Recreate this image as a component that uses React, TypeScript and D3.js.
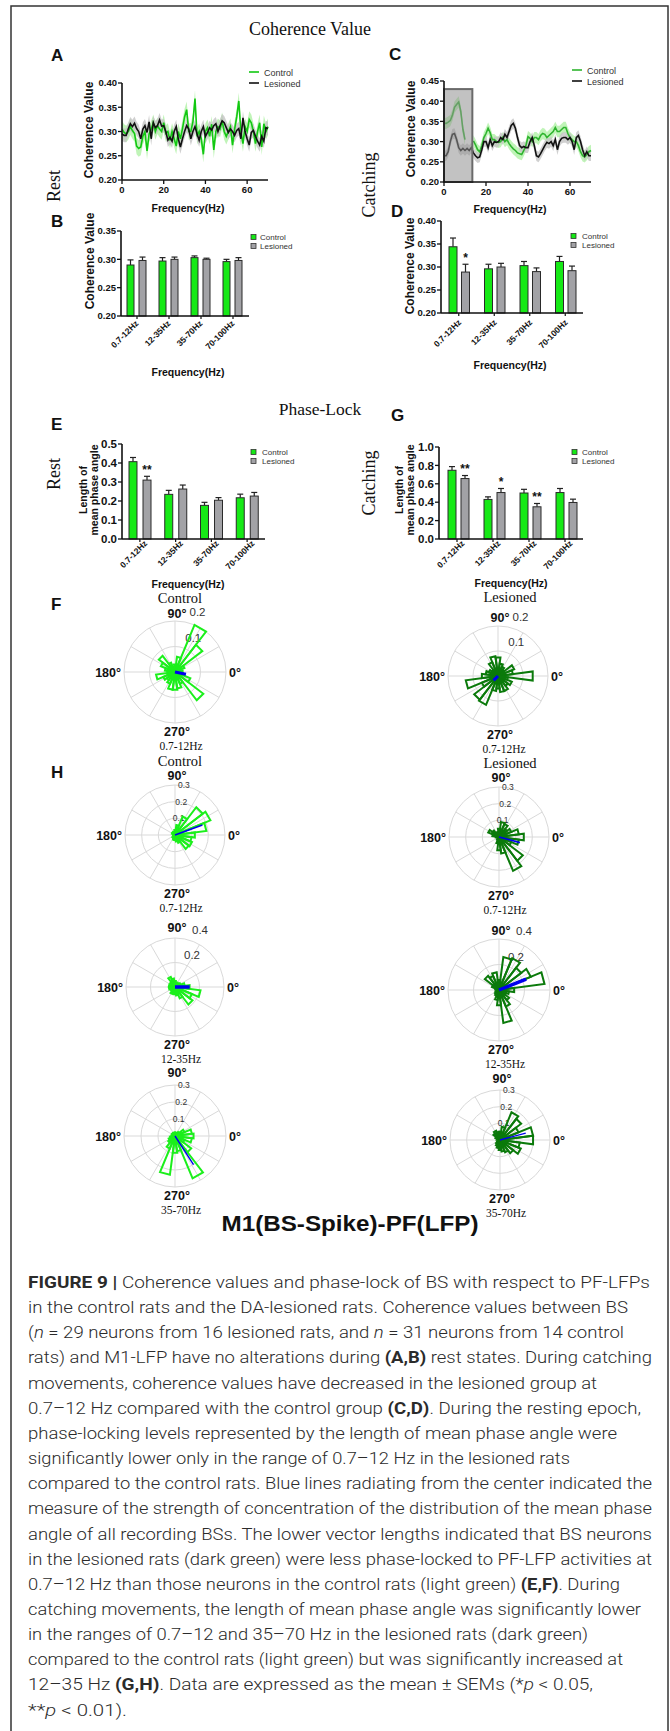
import React from 'react'
import * as d3 from 'd3'

const SANS = "'Liberation Sans', Arial, Helvetica, sans-serif"
const SERIF = "'Liberation Serif', 'Times New Roman', serif"
const CAPTION_FONT = "Roboto, 'Liberation Sans', Arial, sans-serif"

// ---- A / C : coherence spectra (one value per Hz, 0..70) ----
const freqHz = d3.range(0, 71)

const restControl = [
  0.305, 0.298, 0.295, 0.300, 0.310, 0.302, 0.296, 0.270, 0.265, 0.268,
  0.290, 0.300, 0.260, 0.295, 0.305, 0.318, 0.300, 0.312, 0.305, 0.300,
  0.318, 0.296, 0.300, 0.282, 0.300, 0.285, 0.270, 0.300, 0.285, 0.306,
  0.330, 0.345, 0.300, 0.300, 0.320, 0.368, 0.290, 0.300, 0.285, 0.253,
  0.300, 0.308, 0.290, 0.315, 0.262, 0.300, 0.310, 0.305, 0.322, 0.300,
  0.290, 0.300, 0.310, 0.272, 0.305, 0.330, 0.363, 0.300, 0.275, 0.310,
  0.300, 0.325, 0.318, 0.300, 0.275, 0.300, 0.318, 0.268, 0.316, 0.300,
  0.310,
]
const restLesioned = [
  0.295, 0.292, 0.292, 0.305, 0.316, 0.310, 0.317, 0.306, 0.300, 0.285,
  0.305, 0.312, 0.298, 0.320, 0.285, 0.318, 0.308, 0.312, 0.324, 0.311,
  0.312, 0.300, 0.282, 0.288, 0.280, 0.300, 0.310, 0.285, 0.268, 0.285,
  0.300, 0.312, 0.305, 0.285, 0.300, 0.310, 0.295, 0.282, 0.300, 0.310,
  0.290, 0.298, 0.308, 0.303, 0.312, 0.316, 0.300, 0.312, 0.322, 0.318,
  0.308, 0.298, 0.305, 0.300, 0.292, 0.302, 0.306, 0.285, 0.328, 0.300,
  0.285, 0.272, 0.298, 0.302, 0.290, 0.280, 0.272, 0.290, 0.280, 0.308,
  0.306,
]
const catchControl = [
  0.345, 0.345, 0.348, 0.352, 0.365, 0.385, 0.392, 0.398, 0.375, 0.330,
  0.305, null, null, null, 0.302, 0.292, 0.280, 0.275, 0.290, 0.310,
  0.320, 0.333, 0.322, 0.305, 0.305, 0.300, 0.298, 0.300, 0.310, 0.300,
  0.305, 0.295, 0.288, 0.282, 0.278, 0.272, 0.270, 0.268, 0.278, 0.290,
  0.312, 0.308, 0.300, 0.310, 0.310, 0.305, 0.315, 0.320, 0.318, 0.310,
  0.315, 0.320, 0.325, 0.335, 0.325, 0.325, 0.330, 0.335, 0.335, 0.320,
  0.310, 0.305, 0.300, 0.300, 0.290, 0.275, 0.265, 0.262, 0.268, 0.275,
  0.278,
]
const catchLesioned = [
  0.265, 0.265, 0.275, 0.300, 0.318, 0.320, 0.305, 0.285, 0.278, 0.283,
  0.278, 0.283, 0.278, 0.285, 0.272, 0.265, 0.260, 0.262, 0.280, 0.300,
  0.300, 0.285, 0.305, 0.290, 0.300, 0.298, 0.300, 0.310, 0.305, 0.318,
  0.310, 0.325, 0.340, 0.345, 0.333, 0.310, 0.290, 0.285, 0.288, 0.285,
  0.285, 0.300, 0.310, 0.290, 0.265, 0.262, 0.270, 0.280, 0.290, 0.298,
  0.295, 0.300, 0.290, 0.305, 0.280, 0.300, 0.308, 0.310, 0.310, 0.305,
  0.310, 0.300, 0.280, 0.310, 0.315, 0.300, 0.280, 0.265, 0.275, 0.265,
  0.265,
]
const semRestControl = 0.017
const semRestLesioned = 0.014
const semCatchControl = 0.014
const semCatchLesioned = 0.013
const catchBoxHz = [0, 13.5]
const catchBoxTop = 0.43

// ---- B / D / E / G : band summaries ----
const bandNames = ['0.7-12Hz', '12-35Hz', '35-70Hz', '70-100Hz']

const cohRestControl = [0.290, 0.297, 0.303, 0.296]
const cohRestControlSem = [0.009, 0.006, 0.003, 0.004]
const cohRestLesioned = [0.298, 0.300, 0.300, 0.298]
const cohRestLesionedSem = [0.006, 0.004, 0.002, 0.005]
const cohRestStars = ['', '', '', '']

const cohCatchControl = [0.344, 0.296, 0.303, 0.312]
const cohCatchControlSem = [0.019, 0.010, 0.009, 0.011]
const cohCatchLesioned = [0.289, 0.300, 0.290, 0.292]
const cohCatchLesionedSem = [0.017, 0.008, 0.008, 0.010]
const cohCatchStars = ['*', '', '', '']

const plRestControl = [0.407, 0.235, 0.177, 0.217]
const plRestControlSem = [0.022, 0.021, 0.016, 0.019]
const plRestLesioned = [0.310, 0.263, 0.204, 0.226]
const plRestLesionedSem = [0.020, 0.021, 0.014, 0.019]
const plRestStars = ['**', '', '', '']

const plCatchControl = [0.747, 0.430, 0.500, 0.505]
const plCatchControlSem = [0.040, 0.028, 0.040, 0.044]
const plCatchLesioned = [0.657, 0.505, 0.350, 0.397]
const plCatchLesionedSem = [0.033, 0.044, 0.036, 0.036]
const plCatchStars = ['**', '*', '**', '']

// ---- F / H : rose histograms, 24 bins centred on 0°,15°,...,345° ----
const roseFControl = [0.03, 0.02, 0.04, 0.135, 0.20, 0.06, 0.03, 0.02, 0.04, 0.08, 0.06, 0.04,
  0.03, 0.075, 0.05, 0.04, 0.05, 0.07, 0.07, 0.065, 0.05, 0.14, 0.065, 0.03]
const roseFLesioned = [0.14, 0.06, 0.07, 0.03, 0.04, 0.05, 0.075, 0.08, 0.06, 0.03, 0.04, 0.05,
  0.065, 0.13, 0.07, 0.12, 0.125, 0.06, 0.05, 0.065, 0.065, 0.05, 0.06, 0.04]
const roseH1Control = [0.12, 0.19, 0.23, 0.21, 0.12, 0.06, 0.03, 0.02, 0.02, 0.02, 0.02, 0.01,
  0.01, 0.01, 0.01, 0.02, 0.02, 0.03, 0.03, 0.04, 0.05, 0.105, 0.11, 0.10]
const roseH1Lesioned = [0.15, 0.12, 0.08, 0.06, 0.085, 0.09, 0.05, 0.03, 0.03, 0.05, 0.07, 0.04,
  0.02, 0.01, 0.01, 0.01, 0.02, 0.04, 0.08, 0.10, 0.22, 0.18, 0.08, 0.12]
const roseH2Control = [0.12, 0.08, 0.05, 0.04, 0.03, 0.04, 0.05, 0.07, 0.09, 0.05, 0.04, 0.05,
  0.04, 0.05, 0.04, 0.04, 0.06, 0.05, 0.06, 0.07, 0.10, 0.18, 0.15, 0.21]
const roseH2Lesioned = [0.12, 0.36, 0.27, 0.22, 0.27, 0.26, 0.08, 0.14, 0.12, 0.14, 0.06, 0.03,
  0.02, 0.02, 0.03, 0.04, 0.05, 0.08, 0.12, 0.26, 0.14, 0.10, 0.06, 0.08]
const roseH3Control = [0.11, 0.10, 0.06, 0.03, 0.02, 0.02, 0.02, 0.02, 0.02, 0.02, 0.02, 0.02,
  0.02, 0.03, 0.04, 0.05, 0.08, 0.23, 0.10, 0.09, 0.27, 0.12, 0.06, 0.10]
const roseH3Lesioned = [0.20, 0.20, 0.12, 0.16, 0.18, 0.08, 0.05, 0.05, 0.06, 0.05, 0.03, 0.02,
  0.01, 0.01, 0.02, 0.03, 0.04, 0.05, 0.06, 0.07, 0.08, 0.10, 0.135, 0.12]

const meanFControl = { deg: -12, r: 0.044 }
const meanFLesioned = { deg: 225, r: 0.025 }
const meanH1Control = { deg: 20, r: 0.175 }
const meanH1Lesioned = { deg: -15, r: 0.13 }
const meanH2Control = { deg: 0, r: 0.12 }
const meanH2Lesioned = { deg: 22, r: 0.23 }
const meanH3Control = { deg: -57, r: 0.2 }
const meanH3Lesioned = { deg: 15, r: 0.16 }

const captionLines = [
  '^FIGURE 9 |^ Coherence values and phase-lock of BS with respect to PF-LFPs',
  'in the control rats and the DA-lesioned rats. Coherence values between BS',
  '(~n~ = 29 neurons from 16 lesioned rats, and ~n~ = 31 neurons from 14 control',
  'rats) and M1-LFP have no alterations during ^(A,B)^ rest states. During catching',
  'movements, coherence values have decreased in the lesioned group at',
  '0.7–12 Hz compared with the control group ^(C,D)^. During the resting epoch,',
  'phase-locking levels represented by the length of mean phase angle were',
  'significantly lower only in the range of 0.7–12 Hz in the lesioned rats',
  'compared to the control rats. Blue lines radiating from the center indicated the',
  'measure of the strength of concentration of the distribution of the mean phase',
  'angle of all recording BSs. The lower vector lengths indicated that BS neurons',
  'in the lesioned rats (dark green) were less phase-locked to PF-LFP activities at',
  '0.7–12 Hz than those neurons in the control rats (light green) ^(E,F)^. During',
  'catching movements, the length of mean phase angle was significantly lower',
  'in the ranges of 0.7–12 and 35–70 Hz in the lesioned rats (dark green)',
  'compared to the control rats (light green) but was significantly increased at',
  '12–35 Hz ^(G,H)^. Data are expressed as the mean ± SEMs (*~p~ < 0.05,',
  '**~p~ < 0.01).',
]
const captionWidths = [622, 600, 596, 624, 569, 613, 589, 542, 624, 624, 624, 624, 592, 613, 560, 595, 565, 99]

const BAR_GREEN = '#16e916'
const BAR_GRAY = '#a2a2a6'
const ROSE_LIGHT = '#1bef1b'
const ROSE_DARK = '#0b7a0b'

function LinePanel(p: any) {
  const x = d3.scaleLinear().domain([0, 70]).range([p.left, p.right])
  const y = d3.scaleLinear().domain(p.yDomain).range([p.bottom, p.top])
  const rows = freqHz.map((f, i) => ({ f, c: p.control[i], l: p.lesioned[i] }))
  const band = (k: string, sem: number) =>
    d3.area<any>().defined((d) => d[k] != null).x((d) => x(d.f)).y0((d) => y(d[k] - sem)).y1((d) => y(d[k] + sem))(rows) || ''
  const line = (k: string) => d3.line<any>().defined((d) => d[k] != null).x((d) => x(d.f)).y((d) => y(d[k]))(rows) || ''
  const yt = y.ticks(5)
  const fmt = d3.format('.2f')
  return (
    <g fontFamily={SANS}>
      <path d={band('c', p.semC)} fill="#b9f3b0" opacity={0.9} />
      <path d={band('l', p.semL)} fill="#c4c4c4" opacity={0.8} />
      <path d={line('c')} fill="none" stroke={p.controlColor} strokeWidth={1.6} />
      <path d={line('l')} fill="none" stroke="#111" strokeWidth={1.6} />
      {p.box && (
        <rect x={x(p.box[0])} y={y(p.boxTop)} width={x(p.box[1]) - x(p.box[0])} height={y(p.yDomain[0]) - y(p.boxTop)}
          fill="#8f8f8f" fillOpacity={0.55} stroke="#6a6a6a" strokeWidth={2} />
      )}
      <line x1={p.left} x2={p.left} y1={p.top} y2={p.bottom} stroke="#111" strokeWidth={1.6} />
      <line x1={p.left} x2={p.right} y1={p.bottom} y2={p.bottom} stroke="#111" strokeWidth={1.6} />
      {yt.map((t) => (
        <g key={t}>
          <line x1={p.left - 4} x2={p.left} y1={y(t)} y2={y(t)} stroke="#111" strokeWidth={1.3} />
          <text x={p.left - 5} y={y(t) + 3.3} textAnchor="end" fontSize={9.5} fontWeight="bold" fill="#111">{fmt(t)}</text>
        </g>
      ))}
      {[0, 20, 40, 60].map((t) => (
        <g key={t}>
          <line x1={x(t)} x2={x(t)} y1={p.bottom} y2={p.bottom + 4} stroke="#111" strokeWidth={1.3} />
          <text x={x(t)} y={p.bottom + 13} textAnchor="middle" fontSize={9.5} fontWeight="bold" fill="#111">{t}</text>
        </g>
      ))}
      <text x={p.xTitle[0]} y={p.xTitle[1]} textAnchor="middle" fontSize={10.5} fontWeight="bold" fill="#111">Frequency(Hz)</text>
      <text transform={`translate(${p.yTitle[0]},${p.yTitle[1]}) rotate(-90)`} textAnchor="middle" fontSize={12} fontWeight="bold" fill="#111">Coherence Value</text>
      <line x1={p.legend[0]} x2={p.legend[0] + 10} y1={p.legend[1]} y2={p.legend[1]} stroke={p.controlColor} strokeWidth={1.6} />
      <line x1={p.legend[0]} x2={p.legend[0] + 10} y1={p.legend[1] + 11} y2={p.legend[1] + 11} stroke="#111" strokeWidth={1.6} />
      <text x={p.legend[0] + 15} y={p.legend[1] + 3.5} fontSize={9} fill="#333">Control</text>
      <text x={p.legend[0] + 15} y={p.legend[1] + 14.5} fontSize={9} fill="#333">Lesioned</text>
    </g>
  )
}

function BarPanel(p: any) {
  const x0 = d3.scaleBand().domain(bandNames).range([p.left, p.right])
  const x1 = d3.scaleBand().domain(['c', 'l']).range(p.inner).paddingInner(p.pad)
  const y = d3.scaleLinear().domain(p.yDomain).range([p.bottom, p.top])
  const fmt = d3.format(p.fmt)
  const bw = x1.bandwidth()
  const series = [
    { k: 'c', v: p.control, s: p.controlSem, fill: BAR_GREEN },
    { k: 'l', v: p.lesioned, s: p.lesionedSem, fill: BAR_GRAY },
  ]
  return (
    <g fontFamily={SANS}>
      {bandNames.map((b, i) => (
        <g key={b}>
          {series.map((s) => {
            const bx = (x0(b) || 0) + (x1(s.k) || 0)
            const top = y(s.v[i] + s.s[i])
            return (
              <g key={s.k}>
                <line x1={bx + bw / 2} x2={bx + bw / 2} y1={y(s.v[i])} y2={top} stroke="#222" strokeWidth={1.2} />
                <line x1={bx + bw / 2 - 3} x2={bx + bw / 2 + 3} y1={top} y2={top} stroke="#222" strokeWidth={1.2} />
                <rect x={bx} y={y(s.v[i])} width={bw} height={y(p.yDomain[0]) - y(s.v[i])} fill={s.fill} stroke="#2a2a2a" strokeWidth={1} />
              </g>
            )
          })}
          {p.stars[i] && (
            <text x={(x0(b) || 0) + (x1('l') || 0) + bw / 2} y={y(p.lesioned[i] + p.lesionedSem[i]) - 2.5}
              textAnchor="middle" fontSize={12} fontWeight="bold" fill="#111">{p.stars[i]}</text>
          )}
          <line x1={(x0(b) || 0) + x0.bandwidth() / 2} x2={(x0(b) || 0) + x0.bandwidth() / 2} y1={p.bottom} y2={p.bottom + 3} stroke="#111" strokeWidth={1.2} />
          <text transform={`translate(${(x0(b) || 0) + x0.bandwidth() / 2 + p.labelDx},${p.bottom + p.labelDy}) rotate(-45)`}
            textAnchor="end" fontSize={8.5} fontWeight="bold" fill="#111">{b}</text>
        </g>
      ))}
      <line x1={p.left} x2={p.left} y1={p.top} y2={p.bottom} stroke="#111" strokeWidth={1.6} />
      <line x1={p.left} x2={p.right} y1={p.bottom} y2={p.bottom} stroke="#111" strokeWidth={1.6} />
      {p.yTicks.map((t: number) => (
        <g key={t}>
          <line x1={p.left - 4} x2={p.left} y1={y(t)} y2={y(t)} stroke="#111" strokeWidth={1.3} />
          <text x={p.left - 5} y={y(t) + p.tickSize * 0.36} textAnchor="end" fontSize={p.tickSize} fontWeight="bold" fill="#111">{fmt(t)}</text>
        </g>
      ))}
      <text x={p.xTitle[0]} y={p.xTitle[1]} textAnchor="middle" fontSize={10.5} fontWeight="bold" fill="#111">Frequency(Hz)</text>
      {p.yTitle.map((yt: any, j: number) => (
        <text key={j} transform={`translate(${yt[0]},${yt[1]}) rotate(-90)`} textAnchor="middle" fontSize={yt[2]} fontWeight="bold" fill="#111">{yt[3]}</text>
      ))}
      <rect x={p.legend[0]} y={p.legend[1] - 2.5} width={5} height={5} fill={BAR_GREEN} stroke="#333" strokeWidth={0.8} />
      <rect x={p.legend[0]} y={p.legend[1] + 6.5} width={5} height={5} fill={BAR_GRAY} stroke="#333" strokeWidth={0.8} />
      <text x={p.legend[0] + p.legendGap} y={p.legend[1] + 3} fontSize={8} fill="#333">Control</text>
      <text x={p.legend[0] + p.legendGap} y={p.legend[1] + 12} fontSize={8} fill="#333">Lesioned</text>
    </g>
  )
}

function Rose(p: any) {
  const rs = d3.scaleLinear().domain([0, p.rMax]).range([0, p.R])
  const rad = (deg: number) => (deg * Math.PI) / 180
  const pt = (deg: number, r: number): [number, number] => [p.cx + rs(r) * Math.cos(rad(deg)), p.cy - rs(r) * Math.sin(rad(deg))]
  const lineGen = d3.line()
  const spokes = d3.range(0, 360, 30)
  const L = p.label
  return (
    <g>
      {p.rTicks.map((t: number) => (
        <circle key={t} cx={p.cx} cy={p.cy} r={rs(t)} fill="none" stroke="#d9d9d9" strokeWidth={1} />
      ))}
      {spokes.map((a: number) => {
        const e = pt(a, p.rMax)
        return <line key={a} x1={p.cx} y1={p.cy} x2={e[0]} y2={e[1]} stroke="#d9d9d9" strokeWidth={1} />
      })}
      {p.rTicks.map((t: number) => (
        <text key={'l' + t} x={p.cx + L.dx0 + L.dx1 * (t / p.rMax)} y={p.cy - rs(t) + L.dy} fontFamily={SANS} fontSize={L.size} fill="#333">{t.toFixed(1)}</text>
      ))}
      {p.bins.map((v: number, i: number) => {
        const c = i * 15
        const d = lineGen([[p.cx, p.cy], pt(c - 7.5, v), pt(c + 7.5, v), [p.cx, p.cy]]) || ''
        return <path key={i} d={d} fill="none" stroke={p.color} strokeWidth={2} strokeLinejoin="miter" />
      })}
      {(() => {
        const e = pt(p.mean.deg, p.mean.r)
        return <line x1={p.cx} y1={p.cy} x2={e[0]} y2={e[1]} stroke="#0000ee" strokeWidth={p.meanWidth} />
      })()}
      <g fontFamily={SANS} fontWeight="bold" fontSize={12.5} fill="#111">
        <text x={p.cx + 2} y={p.cy - p.R - p.topGap} textAnchor="middle">90°</text>
        <text x={p.cx - p.R - 3} y={p.cy + 4.5} textAnchor="end">180°</text>
        <text x={p.cx + p.R + 3} y={p.cy + 4.5}>0°</text>
        <text x={p.cx + 2} y={p.cy + p.R + 13} textAnchor="middle">270°</text>
      </g>
      <text x={p.cx + 6} y={p.cy + p.R + 26.5} textAnchor="middle" fontFamily={SERIF} fontSize={11.5} fill="#111">{p.band}</text>
    </g>
  )
}

function parseSegments(line: string) {
  const segs: { t: string; bold: boolean; italic: boolean }[] = []
  let bold = false
  let italic = false
  let buf = ''
  for (const ch of line) {
    if (ch === '^' || ch === '~') {
      if (buf) segs.push({ t: buf, bold, italic })
      buf = ''
      if (ch === '^') bold = !bold
      else italic = !italic
    } else buf += ch
  }
  if (buf) segs.push({ t: buf, bold, italic })
  return segs
}

const labelF = { size: 11.5, dx0: 6, dx1: 8.5, dy: -5 }
const label03 = { size: 8.5, dx0: -5, dx1: 8, dy: 3 }
const label04 = { size: 11.5, dx0: 1, dx1: 16, dy: -4 }

export default function App() {
  return (
    <div style={{ position: 'absolute', left: 0, top: 0, width: 670, height: 1731, background: '#fff' }}>
      <svg width={670} height={1731} viewBox="0 0 670 1731" style={{ display: 'block' }}>
        <rect x={0} y={0} width={670} height={1731} fill="#fff" />
        <rect x={11} y={6} width={657} height={1760} fill="none" stroke="#333" strokeWidth={1.5} />

        {/* section titles */}
        <g fontFamily={SERIF} fill="#111">
          <text x={310} y={35} textAnchor="middle" fontSize={18}>Coherence Value</text>
          <text x={320} y={415} textAnchor="middle" fontSize={17.5}>Phase-Lock</text>
          <text transform="translate(60,186) rotate(-90)" textAnchor="middle" fontSize={18}>Rest</text>
          <text transform="translate(375,185) rotate(-90)" textAnchor="middle" fontSize={18}>Catching</text>
          <text transform="translate(60,474) rotate(-90)" textAnchor="middle" fontSize={18}>Rest</text>
          <text transform="translate(375,483) rotate(-90)" textAnchor="middle" fontSize={18}>Catching</text>
          <text x={180} y={603} textAnchor="middle" fontSize={14.5}>Control</text>
          <text x={510} y={602} textAnchor="middle" fontSize={14.5}>Lesioned</text>
          <text x={180} y={766} textAnchor="middle" fontSize={14.5}>Control</text>
          <text x={510} y={768} textAnchor="middle" fontSize={14.5}>Lesioned</text>
        </g>

        {/* panel letters */}
        <g fontFamily={SANS} fontWeight="bold" fontSize={17} fill="#111">
          <text x={51} y={61}>A</text>
          <text x={389} y={60}>C</text>
          <text x={51} y={227}>B</text>
          <text x={391} y={217}>D</text>
          <text x={51} y={430}>E</text>
          <text x={391} y={421}>G</text>
          <text x={51} y={610}>F</text>
          <text x={51} y={778}>H</text>
        </g>

        <LinePanel left={122} right={268} top={83} bottom={180} yDomain={[0.2, 0.4]}
          control={restControl} lesioned={restLesioned} semC={semRestControl} semL={semRestLesioned}
          controlColor="#12c812" xTitle={[188, 212]} yTitle={[93, 130]} legend={[249, 72]} />
        <LinePanel left={444} right={591} top={81} bottom={182} yDomain={[0.2, 0.45]}
          control={catchControl} lesioned={catchLesioned} semC={semCatchControl} semL={semCatchLesioned}
          controlColor="#2fb42f" xTitle={[510, 213]} yTitle={[415, 129]} legend={[572, 70]}
          box={catchBoxHz} boxTop={catchBoxTop} />

        <BarPanel left={121} right={249} top={231} bottom={316} yDomain={[0.2, 0.35]} yTicks={[0.2, 0.25, 0.3, 0.35]} fmt=".2f" tickSize={9.5}
          inner={[6, 25]} pad={0.4167} control={cohRestControl} controlSem={cohRestControlSem}
          lesioned={cohRestLesioned} lesionedSem={cohRestLesionedSem} stars={cohRestStars}
          labelDx={2} labelDy={8} xTitle={[188, 376]} yTitle={[[94, 261, 12, 'Coherence Value']]}
          legend={[251, 237]} legendGap={9} />
        <BarPanel left={441} right={583} top={221} bottom={313} yDomain={[0.2, 0.4]} yTicks={[0.2, 0.25, 0.3, 0.35, 0.4]} fmt=".2f" tickSize={9.5}
          inner={[8, 28.5]} pad={0.36} control={cohCatchControl} controlSem={cohCatchControlSem}
          lesioned={cohCatchLesioned} lesionedSem={cohCatchLesionedSem} stars={cohCatchStars}
          labelDx={3} labelDy={10} xTitle={[510, 369]} yTitle={[[414, 266, 12, 'Coherence Value']]}
          legend={[571, 236]} legendGap={11} />
        <BarPanel left={122} right={265} top={444} bottom={539} yDomain={[0, 0.5]} yTicks={[0, 0.1, 0.2, 0.3, 0.4, 0.5]} fmt=".1f" tickSize={11.5}
          inner={[7, 29]} pad={0.43} control={plRestControl} controlSem={plRestControlSem}
          lesioned={plRestLesioned} lesionedSem={plRestLesionedSem} stars={plRestStars}
          labelDx={8} labelDy={5} xTitle={[188, 588]}
          yTitle={[[87, 490, 10.5, 'Length of'], [98, 490, 10.5, 'mean phase angle']]}
          legend={[251, 452]} legendGap={11} />
        <BarPanel left={439} right={583} top={447} bottom={539} yDomain={[0, 1]} yTicks={[0, 0.2, 0.4, 0.6, 0.8, 1]} fmt=".1f" tickSize={11.5}
          inner={[9, 30]} pad={0.385} control={plCatchControl} controlSem={plCatchControlSem}
          lesioned={plCatchLesioned} lesionedSem={plCatchLesionedSem} stars={plCatchStars}
          labelDx={8} labelDy={5} xTitle={[511, 587]}
          yTitle={[[403, 490, 10.5, 'Length of'], [414, 490, 10.5, 'mean phase angle']]}
          legend={[572, 452]} legendGap={10} />

        <Rose cx={175} cy={672} R={51} rMax={0.2} rTicks={[0.1, 0.2]} bins={roseFControl} color={ROSE_LIGHT}
          mean={meanFControl} meanWidth={3} label={labelF} topGap={3} band="0.7-12Hz" />
        <Rose cx={498} cy={676} R={50} rMax={0.2} rTicks={[0.1, 0.2]} bins={roseFLesioned} color={ROSE_DARK}
          mean={meanFLesioned} meanWidth={3} label={labelF} topGap={4} band="0.7-12Hz" />
        <Rose cx={175} cy={835} R={50} rMax={0.3} rTicks={[0.1, 0.2, 0.3]} bins={roseH1Control} color={ROSE_LIGHT}
          mean={meanH1Control} meanWidth={1.6} label={label03} topGap={5} band="0.7-12Hz" />
        <Rose cx={499} cy={837} R={50} rMax={0.3} rTicks={[0.1, 0.2, 0.3]} bins={roseH1Lesioned} color={ROSE_DARK}
          mean={meanH1Lesioned} meanWidth={1.6} label={label03} topGap={5} band="0.7-12Hz" />
        <Rose cx={175} cy={987} R={49} rMax={0.4} rTicks={[0.2, 0.4]} bins={roseH2Control} color={ROSE_LIGHT}
          mean={meanH2Control} meanWidth={3.5} label={label04} topGap={6} band="12-35Hz" />
        <Rose cx={499} cy={990} R={51} rMax={0.4} rTicks={[0.2, 0.4]} bins={roseH2Lesioned} color={ROSE_DARK}
          mean={meanH2Lesioned} meanWidth={3.5} label={label04} topGap={4} band="12-35Hz" />
        <Rose cx={175} cy={1136} R={51} rMax={0.3} rTicks={[0.1, 0.2, 0.3]} bins={roseH3Control} color={ROSE_LIGHT}
          mean={meanH3Control} meanWidth={1.4} label={label03} topGap={8} band="35-70Hz" />
        <Rose cx={500} cy={1140} R={50} rMax={0.3} rTicks={[0.1, 0.2, 0.3]} bins={roseH3Lesioned} color={ROSE_DARK}
          mean={meanH3Lesioned} meanWidth={1.4} label={label03} topGap={7} band="35-70Hz" />

        <text x={350} y={1231} textAnchor="middle" fontFamily={SANS} fontWeight="bold" fontSize={22} fill="#111"
          textLength={257} lengthAdjust="spacingAndGlyphs">M1(BS-Spike)-PF(LFP)</text>

        <g fontFamily={CAPTION_FONT} fontSize={17} fill="#2b2b2b" fontWeight={300}>
          {captionLines.map((ln, i) => (
            <text key={i} x={28} y={1288 + i * 25.15} textLength={captionWidths[i]} lengthAdjust="spacingAndGlyphs"
              style={{ whiteSpace: 'pre' }}>
              {parseSegments(ln).map((s, j) => (
                <tspan key={j} fontWeight={s.bold ? 'bold' : 300} fontStyle={s.italic ? 'italic' : 'normal'}>{s.t}</tspan>
              ))}
            </text>
          ))}
        </g>
      </svg>
    </div>
  )
}
